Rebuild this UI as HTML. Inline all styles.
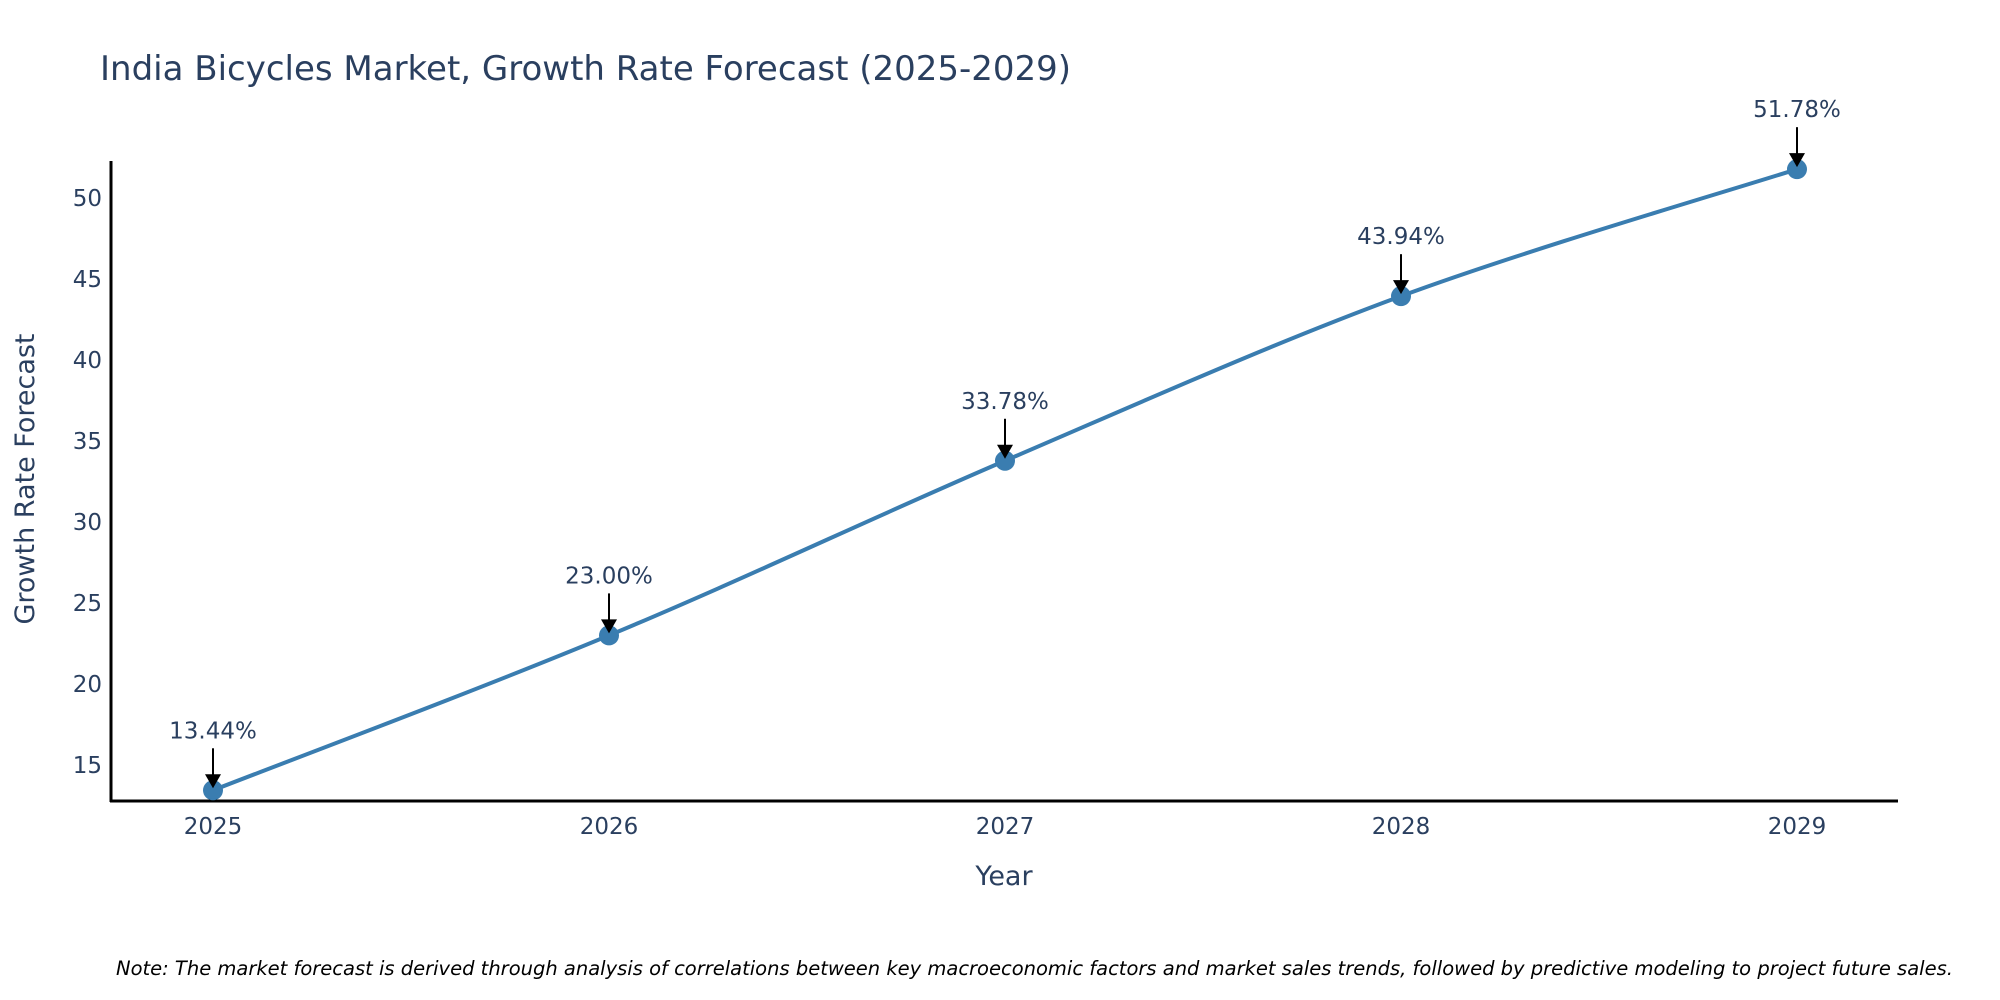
<!DOCTYPE html>
<html><head><meta charset="utf-8"><style>
body{margin:0;background:#fff}
svg{display:block;font-family:"DejaVu Sans","Liberation Sans",sans-serif}
</style></head><body>
<svg id="chart" width="2000" height="1000" viewBox="0 0 2000 1000">
<text x="100" y="80" font-size="34" fill="#2a3f5f">India Bicycles Market, Growth Rate Forecast (2025-2029)</text>
<g id="yticks"></g>
<g id="xticks"></g>
<line x1="111" y1="161" x2="111" y2="802" stroke="#000" stroke-width="3"/>
<line x1="110" y1="801" x2="1898" y2="801" stroke="#000" stroke-width="3"/>
<path id="line" fill="none" stroke="#3a7db0" stroke-width="4"/>
<g id="marks"></g>
<text x="1004" y="885" font-size="27" fill="#2a3f5f" text-anchor="middle">Year</text>
<text transform="translate(34,479) rotate(-90)" font-size="27" fill="#2a3f5f" text-anchor="middle">Growth Rate Forecast</text>
<text x="116" y="975" font-size="19.5" font-style="italic" fill="#000">Note: The market forecast is derived through analysis of correlations between key macroeconomic factors and market sales trends, followed by predictive modeling to project future sales.</text>
</svg>
<script>
const years = [2025, 2026, 2027, 2028, 2029];
const values = [13.44, 23.00, 33.78, 43.94, 51.78];
const yTicks = [15, 20, 25, 30, 35, 40, 45, 50];
const NS = "http://www.w3.org/2000/svg";
function xs(i){ return 213 + (1797 - 213) * (i - years[0]) / (years[years.length-1] - years[0]); }
function ys(v){ return 765 - (v - 15) * (765 - 198) / 35; }
function mk(tag, attrs, parent){ const e = document.createElementNS(NS, tag); for (const k in attrs) e.setAttribute(k, attrs[k]); parent.appendChild(e); return e; }
const yg = document.getElementById('yticks');
yTicks.forEach(t => {
  const e = mk('text', {x:102, y:ys(t)+8, 'font-size':23, fill:'#2a3f5f', 'text-anchor':'end'}, yg);
  
  
  e.textContent = t;
});
const xg = document.getElementById('xticks');
years.forEach(y => {
  const e = mk('text', {x:xs(y), y:834, 'font-size':23, fill:'#2a3f5f', 'text-anchor':'middle'}, xg);
  
  
  e.textContent = y;
});
const pts = years.map((y, i) => [xs(y), ys(values[i])]);
let d = 'M' + pts[0][0] + ',' + pts[0][1];
const s = 0.5 / 3;
for (let i = 0; i < pts.length - 1; i++) {
  const p0 = pts[Math.max(0, i-1)], p1 = pts[i], p2 = pts[i+1], p3 = pts[Math.min(pts.length-1, i+2)];
  const c1 = [p1[0] + (p2[0]-p0[0]) * s, p1[1] + (p2[1]-p0[1]) * s];
  const c2 = [p2[0] - (p3[0]-p1[0]) * s, p2[1] - (p3[1]-p1[1]) * s];
  d += ' C' + c1 + ' ' + c2 + ' ' + p2;
}
document.getElementById('line').setAttribute('d', d);
const mg = document.getElementById('marks');
pts.forEach((p, i) => {
  const c = mk('circle', {cx:p[0], cy:p[1], r:10, fill:'#3a7db0'}, mg);
  
  
  const l = mk('line', {x1:p[0], y1:p[1]-42, x2:p[0], y2:p[1]-14, stroke:'#000', 'stroke-width':2}, mg);
  
  
  const h = mk('polygon', {points:(p[0]-8)+','+(p[1]-16)+' '+(p[0]+8)+','+(p[1]-16)+' '+p[0]+','+(p[1]-2), fill:'#000'}, mg);
  
  
  const t = mk('text', {x:p[0], y:p[1]-52, 'font-size':23, fill:'#2a3f5f', 'text-anchor':'middle'}, mg);
  
  
  t.textContent = values[i].toFixed(2) + '%';
});
</script>
</body></html>
